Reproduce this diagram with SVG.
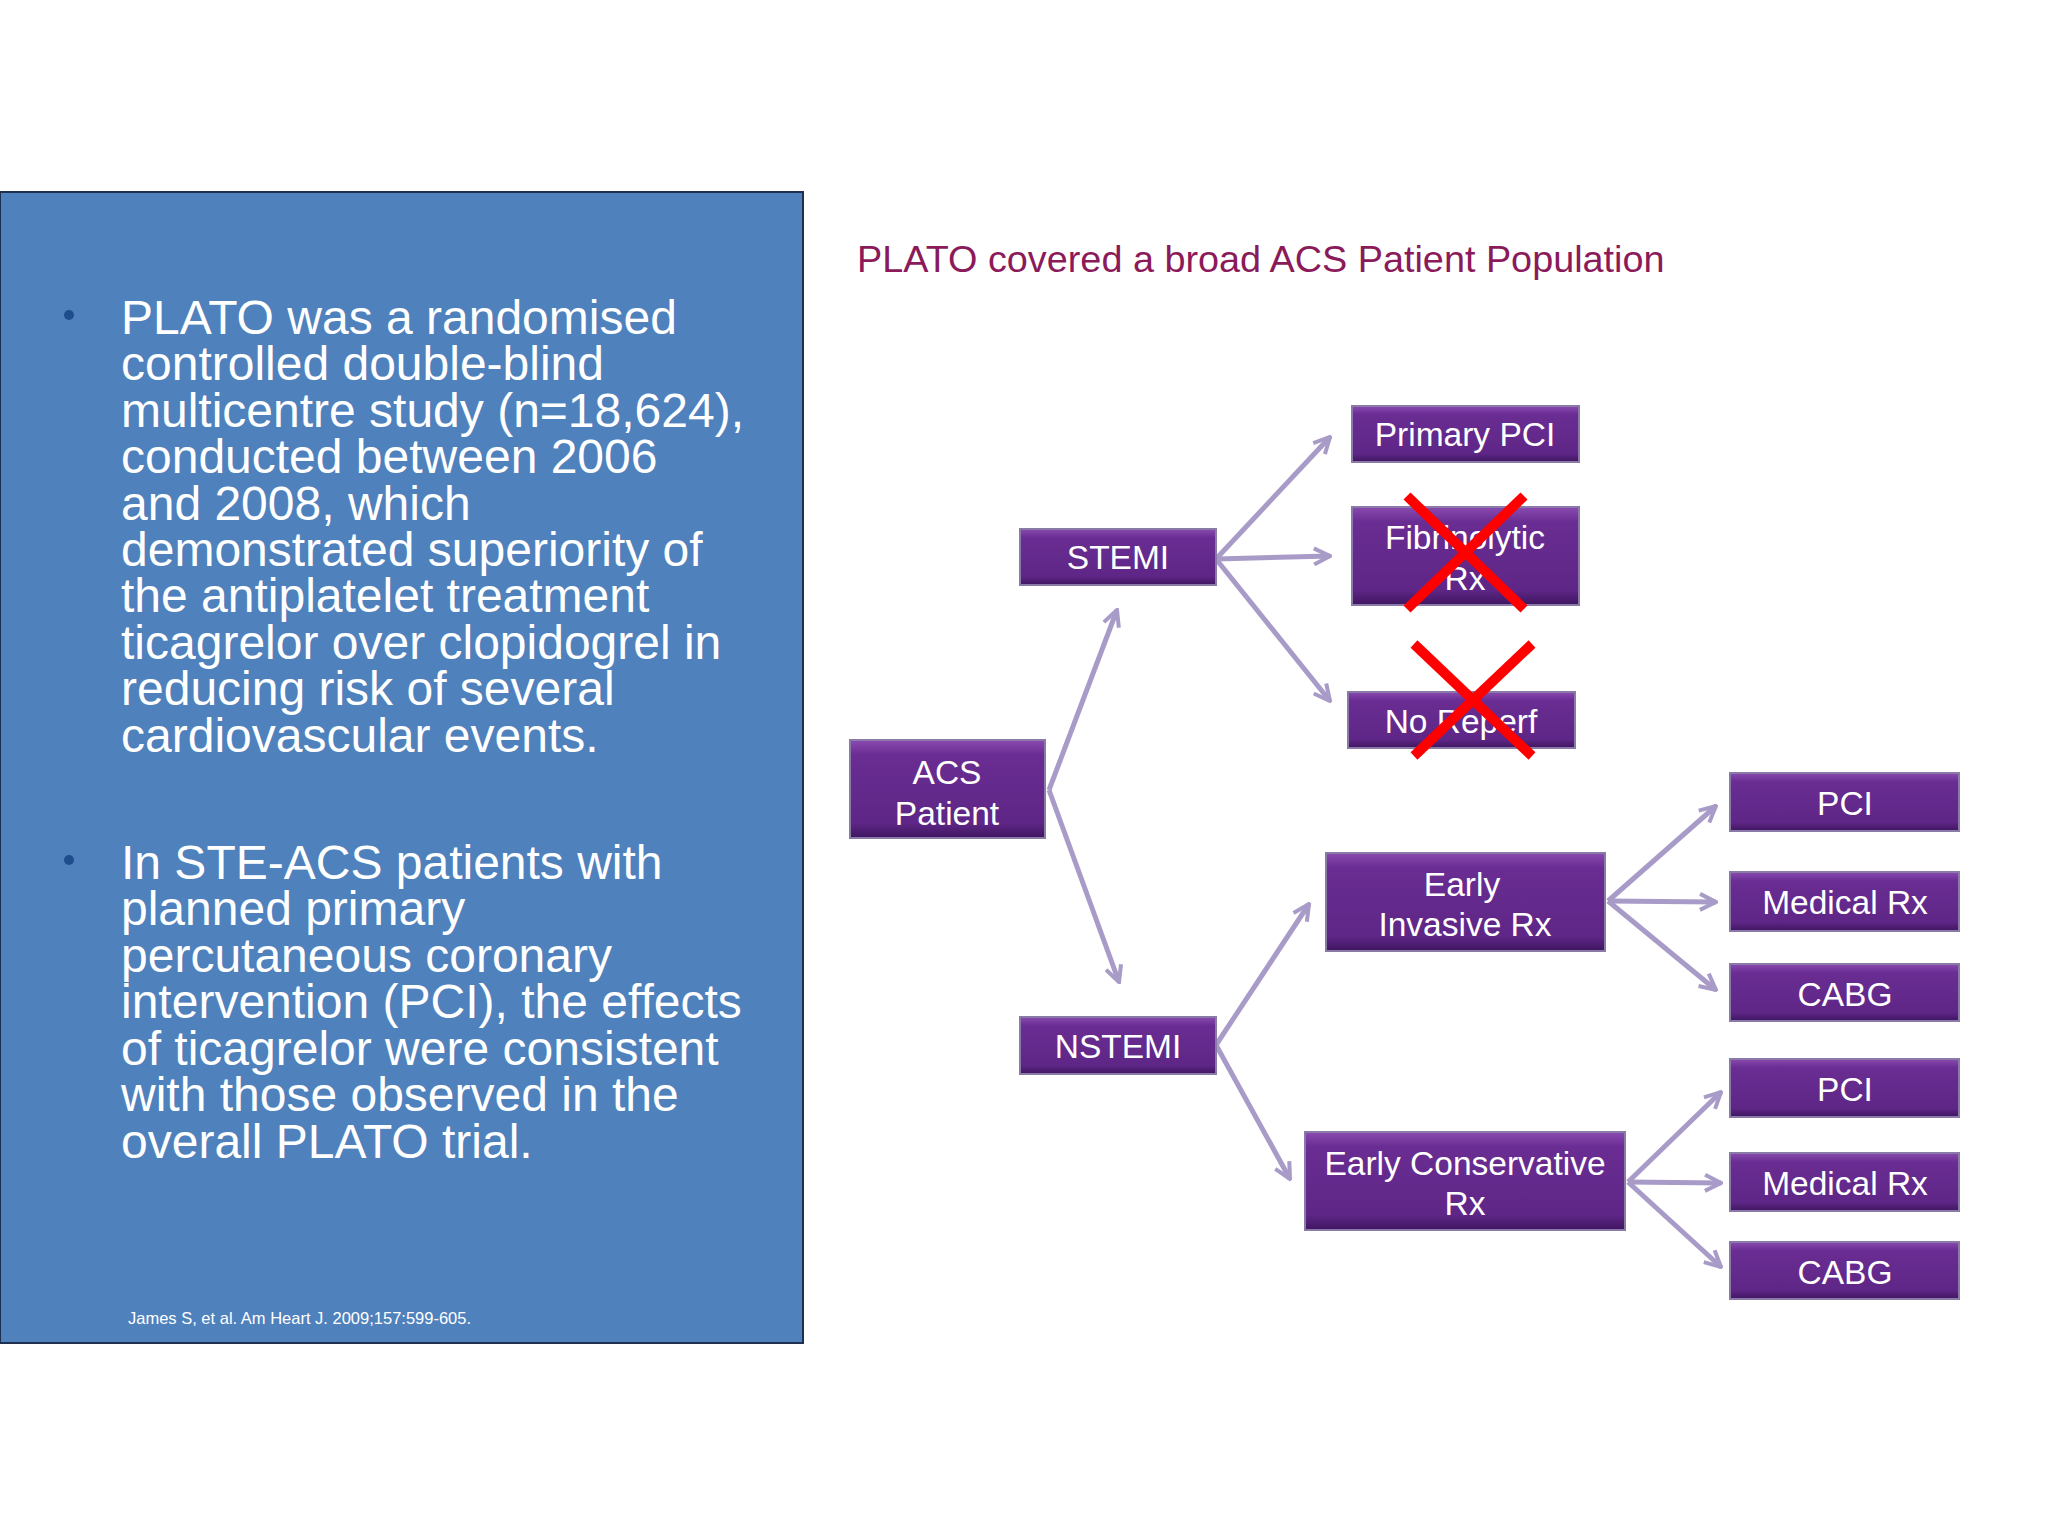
<svg xmlns="http://www.w3.org/2000/svg" width="2048" height="1536" viewBox="0 0 2048 1536">
<defs>
<linearGradient id="bf" x1="0" y1="0" x2="0" y2="1">
<stop offset="0" stop-color="#8a4bb0"/><stop offset="0.15" stop-color="#6a2d93"/><stop offset="0.85" stop-color="#5e2686"/><stop offset="1" stop-color="#3e1660"/>
</linearGradient>
<marker id="ah" viewBox="0 0 20 20" refX="18" refY="10" markerWidth="20" markerHeight="20" markerUnits="userSpaceOnUse" orient="auto">
<path d="M2,2 L18,10 L2,18" fill="none" stroke="#a99bc8" stroke-width="4"/>
</marker>
</defs>
<style>
.box{fill:url(#bf);stroke:#8a7aa8;stroke-width:2}
.bt{font-family:"Liberation Sans",Arial,sans-serif;font-size:33.5px;fill:#fff;text-anchor:middle}
.con{stroke:#a99bc8;stroke-width:5;fill:none;marker-end:url(#ah)}
.bul{font-family:"Liberation Sans",Arial,sans-serif;font-size:48px;fill:#fff}
.x{stroke:#ff0000;stroke-width:10;stroke-linecap:butt}
</style>
<rect width="2048" height="1536" fill="#fff"/>
<g id="panel">
<rect x="0" y="192" width="803" height="1151" fill="#4f81bd" stroke="#1f2f4f" stroke-width="2"/>
<circle cx="69" cy="315" r="5" fill="#1f4e8c"/>
<text class="bul" x="121">
<tspan x="121" y="334">PLATO was a randomised</tspan>
<tspan x="121" y="380">controlled double-blind</tspan>
<tspan x="121" y="427">multicentre study (n=18,624),</tspan>
<tspan x="121" y="473">conducted between 2006</tspan>
<tspan x="121" y="520">and 2008, which</tspan>
<tspan x="121" y="566">demonstrated superiority of</tspan>
<tspan x="121" y="612">the antiplatelet treatment</tspan>
<tspan x="121" y="659">ticagrelor over clopidogrel in</tspan>
<tspan x="121" y="705">reducing risk of several</tspan>
<tspan x="121" y="752">cardiovascular events.</tspan>
</text>
<circle cx="69" cy="860" r="5" fill="#1f4e8c"/>
<text class="bul">
<tspan x="121" y="879">In STE-ACS patients with</tspan>
<tspan x="121" y="925">planned primary</tspan>
<tspan x="121" y="972">percutaneous coronary</tspan>
<tspan x="121" y="1018">intervention (PCI), the effects</tspan>
<tspan x="121" y="1065">of ticagrelor were consistent</tspan>
<tspan x="121" y="1111">with those observed in the</tspan>
<tspan x="121" y="1158">overall PLATO trial.</tspan>
</text>
<text x="128" y="1324" font-family="Liberation Sans,Arial,sans-serif" font-size="16.5" fill="#fff">James S, et al. Am Heart J. 2009;157:599-605.</text>
</g>
<text id="title" x="857" y="272" font-family="Liberation Sans,Arial,sans-serif" font-size="37.8" fill="#8b1a5a">PLATO covered a broad ACS Patient Population</text>
<g id="connectors">
<line class="con" x1="1216" y1="559" x2="1330" y2="437"/>
<line class="con" x1="1216" y1="559" x2="1330" y2="556"/>
<line class="con" x1="1216" y1="559" x2="1330" y2="701"/>
<line class="con" x1="1049" y1="790" x2="1117" y2="610"/>
<line class="con" x1="1049" y1="790" x2="1119" y2="982"/>
<line class="con" x1="1216" y1="1045" x2="1309" y2="904"/>
<line class="con" x1="1216" y1="1045" x2="1290" y2="1179"/>
<line class="con" x1="1608" y1="901" x2="1716" y2="806"/>
<line class="con" x1="1608" y1="901" x2="1716" y2="902"/>
<line class="con" x1="1608" y1="901" x2="1716" y2="990"/>
<line class="con" x1="1628" y1="1182" x2="1721" y2="1092"/>
<line class="con" x1="1628" y1="1182" x2="1721" y2="1183"/>
<line class="con" x1="1628" y1="1182" x2="1721" y2="1267"/>
</g>
<g id="acs"><rect class="box" x="850" y="740" width="195" height="98"/><text class="bt" x="947" y="784">ACS</text><text class="bt" x="947" y="825">Patient</text></g>
<g id="stemi"><rect class="box" x="1020" y="529" width="196" height="56"/><text class="bt" x="1118" y="569">STEMI</text></g>
<g id="nstemi"><rect class="box" x="1020" y="1017" width="196" height="57"/><text class="bt" x="1118" y="1058">NSTEMI</text></g>
<g id="ppci"><rect class="box" x="1352" y="406" width="227" height="56"/><text class="bt" x="1465" y="446">Primary PCI</text></g>
<g id="fib"><rect class="box" x="1352" y="507" width="227" height="98"/><text class="bt" x="1465" y="549">Fibrinolytic</text><text class="bt" x="1465" y="590">Rx</text></g>
<g id="noreperf"><rect class="box" x="1348" y="692" width="227" height="56"/><text class="bt" x="1461" y="733">No Reperf</text></g>
<g id="einv"><rect class="box" x="1326" y="853" width="279" height="98"/><text class="bt" x="1462" y="896">Early</text><text class="bt" x="1465" y="936">Invasive Rx</text></g>
<g id="econs"><rect class="box" x="1305" y="1132" width="320" height="98"/><text class="bt" x="1465" y="1175">Early Conservative</text><text class="bt" x="1465" y="1215">Rx</text></g>
<g id="pci1"><rect class="box" x="1730" y="773" width="229" height="58"/><text class="bt" x="1845" y="815">PCI</text></g>
<g id="med1"><rect class="box" x="1730" y="872" width="229" height="59"/><text class="bt" x="1845" y="914">Medical Rx</text></g>
<g id="cabg1"><rect class="box" x="1730" y="964" width="229" height="57"/><text class="bt" x="1845" y="1006">CABG</text></g>
<g id="pci2"><rect class="box" x="1730" y="1059" width="229" height="58"/><text class="bt" x="1845" y="1101">PCI</text></g>
<g id="med2"><rect class="box" x="1730" y="1153" width="229" height="58"/><text class="bt" x="1845" y="1195">Medical Rx</text></g>
<g id="cabg2"><rect class="box" x="1730" y="1242" width="229" height="57"/><text class="bt" x="1845" y="1284">CABG</text></g>
<g id="crosses">
<line class="x" x1="1407" y1="496" x2="1524" y2="609"/><line class="x" x1="1524" y1="496" x2="1407" y2="609"/>
<line class="x" x1="1414" y1="644" x2="1532" y2="756"/><line class="x" x1="1532" y1="644" x2="1414" y2="756"/>
</g>
</svg>
